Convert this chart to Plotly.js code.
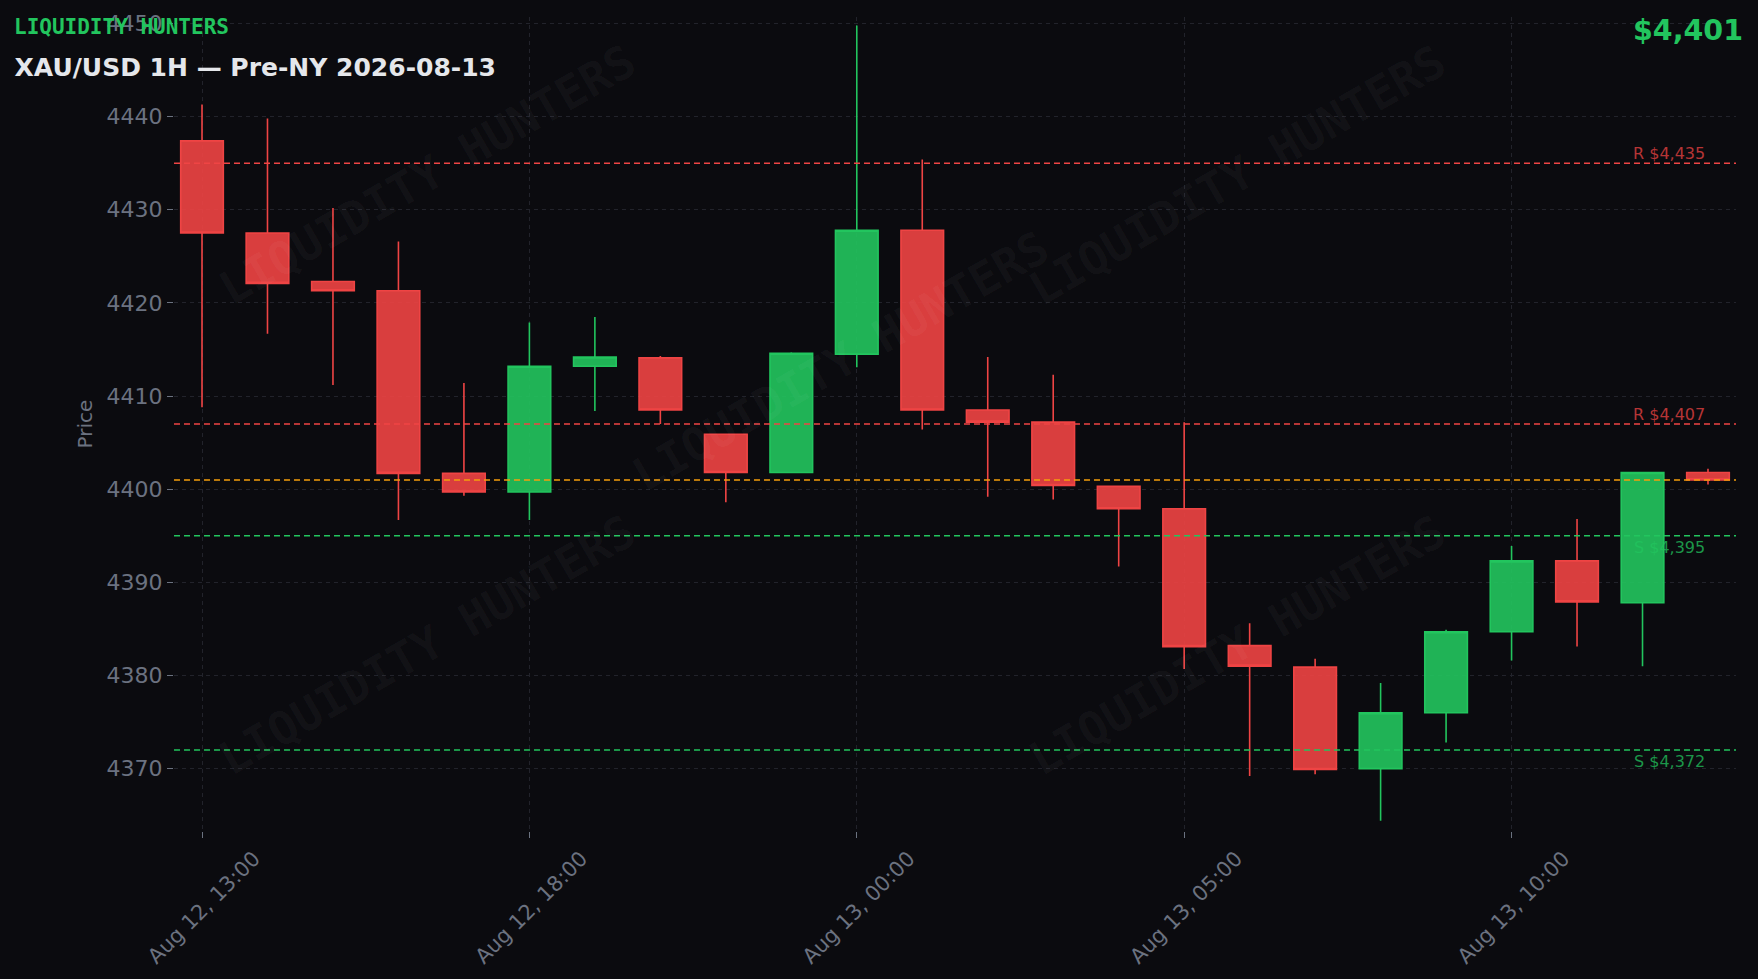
<!DOCTYPE html>
<html>
<head>
<meta charset="utf-8">
<script src="https://cdn.plot.ly/plotly-3.0.1.min.js"></script>
<style>
  html, body { margin: 0; padding: 0; background: #0b0b0f; }
  #chart { width: 1758px; height: 979px; }
</style>
</head>
<body>
<div id="chart"></div>
<script>
// ---- data ----
const times = [
  '2026-08-12 13:00', '2026-08-12 14:00', '2026-08-12 15:00', '2026-08-12 16:00',
  '2026-08-12 17:00', '2026-08-12 18:00', '2026-08-12 19:00', '2026-08-12 20:00',
  '2026-08-12 21:00', '2026-08-12 22:00',
  '2026-08-13 00:00', '2026-08-13 01:00', '2026-08-13 02:00', '2026-08-13 03:00',
  '2026-08-13 04:00', '2026-08-13 05:00', '2026-08-13 06:00', '2026-08-13 07:00',
  '2026-08-13 08:00', '2026-08-13 09:00', '2026-08-13 10:00', '2026-08-13 11:00',
  '2026-08-13 12:00', '2026-08-13 13:00'
];
const openP  = [4437.4, 4427.5, 4422.3, 4421.3, 4401.7, 4399.7, 4413.2, 4414.1, 4405.9, 4401.8,
                4414.5, 4427.8, 4408.5, 4407.2, 4400.3, 4397.9, 4383.2, 4380.9, 4370.0, 4376.0,
                4384.7, 4392.3, 4387.8, 4401.8];
const highP  = [4441.3, 4439.8, 4430.2, 4426.6, 4411.4, 4417.9, 4418.5, 4414.3, 4405.9, 4414.7,
                4449.8, 4435.4, 4414.2, 4412.3, 4400.4, 4407.2, 4385.6, 4381.8, 4379.2, 4384.9,
                4393.9, 4396.8, 4401.8, 4402.2];
const lowP   = [4408.8, 4416.7, 4411.2, 4396.7, 4399.3, 4396.7, 4408.4, 4407.0, 4398.6, 4401.8,
                4413.1, 4406.4, 4399.2, 4398.9, 4391.7, 4380.7, 4369.2, 4369.4, 4364.4, 4372.8,
                4381.6, 4383.1, 4381.0, 4400.5];
const closeP = [4427.5, 4422.1, 4421.3, 4401.7, 4399.7, 4413.2, 4414.2, 4408.5, 4401.8, 4414.6,
                4427.8, 4408.5, 4407.2, 4400.4, 4397.9, 4383.1, 4381.0, 4369.9, 4376.0, 4384.7,
                4392.3, 4387.9, 4401.8, 4401.0];
const tickIdx = [0, 5, 10, 15, 20];
const currentPrice = 4401;
const resistance = [4435, 4407];
const support = [4395, 4372];
const gapHour = '2026-08-12 23:00';
const brand = 'LIQUIDITY HUNTERS';
const titleText = 'XAU/USD 1H — Pre-NY 2026-08-13';

// ---- styling ----
const BG = '#0b0b0f';
const GREEN = '#22c55e';
const RED = '#ef4444';
const ORANGE = '#f59e0b';
const GRID = '#22232b';
const TICK = '#6b7280';
const FONT = 'DejaVu Sans, sans-serif';
const MONO = 'DejaVu Sans Mono, monospace';

const fmt = v => '$' + v.toLocaleString('en-US');

const trace = {
  type: 'candlestick',
  x: times, open: openP, high: highP, low: lowP, close: closeP,
  increasing: { line: { color: GREEN, width: 1.6 }, fillcolor: 'rgba(34,197,94,0.9)' },
  decreasing: { line: { color: RED, width: 1.6 }, fillcolor: 'rgba(239,68,68,0.9)' },
  hoverinfo: 'none',
  showlegend: false
};

const shapes = [];
const annotations = [];
function hline(y, color) {
  shapes.push({ type: 'line', xref: 'paper', x0: 0, x1: 1, yref: 'y', y0: y, y1: y,
    line: { color: color, width: 1.5, dash: '6px,4px' }, layer: 'above' });
}
resistance.forEach(v => {
  hline(v, RED);
  annotations.push({ xref: 'paper', x: 0.9815, xanchor: 'right', yref: 'y', y: v, yanchor: 'bottom', yshift: -2,
    text: 'R ' + fmt(v), showarrow: false, font: { family: FONT, size: 16, color: 'rgba(239,68,68,0.75)' } });
});
support.forEach(v => {
  hline(v, GREEN);
  annotations.push({ xref: 'paper', x: 0.9815, xanchor: 'right', yref: 'y', y: v, yanchor: 'top',
    text: 'S ' + fmt(v), showarrow: false, font: { family: FONT, size: 16, color: 'rgba(34,197,94,0.75)' } });
});
hline(currentPrice, ORANGE);

// watermarks
const wm = [[0.162, 0.806], [0.681, 0.806], [0.427, 0.578], [0.162, 0.228], [0.681, 0.228]];
wm.forEach(p => {
  annotations.push({ xref: 'paper', yref: 'paper', x: p[0], y: p[1], xanchor: 'center', yanchor: 'middle',
    text: brand, textangle: -30, showarrow: false,
    font: { family: MONO, size: 46, color: 'rgba(255,255,255,0.04)', weight: 'bold' } });
});

annotations.push({ xref: 'paper', yref: 'paper', x: -0.1035, y: 0.988, xanchor: 'left', yanchor: 'middle',
  text: '<b>' + brand + '</b>', showarrow: false, font: { family: MONO, size: 21, color: GREEN } });
annotations.push({ xref: 'paper', yref: 'paper', x: 1.0055, y: 0.984, xanchor: 'right', yanchor: 'middle',
  text: '<b>' + fmt(currentPrice) + '</b>', showarrow: false, font: { family: FONT, size: 28.5, color: GREEN } });

const layout = {
  width: 1758, height: 979,
  paper_bgcolor: BG, plot_bgcolor: BG,
  margin: { l: 174, r: 22, t: 17, b: 148 },
  boxgap: 0.3, boxgroupgap: 0.07,
  title: { text: '<b>' + titleText + '</b>', x: 0.0083, xanchor: 'left', xref: 'container',
    y: 1 - 67 / 979, yanchor: 'middle', yref: 'container',
    font: { family: FONT, size: 25, color: '#e5e7eb' } },
  xaxis: {
    type: 'date',
    range: ['2026-08-12 12:34:20', '2026-08-13 13:25:40'],
    rangebreaks: [{ values: [gapHour], dvalue: 3600000 }],
    rangeslider: { visible: false },
    tickmode: 'array',
    tickvals: tickIdx.map(i => times[i]),
    tickformat: '%b %d, %H:%M',
    tickangle: -45,
    ticklabelshift: 52,
    tickfont: { family: FONT, size: 21, color: TICK },
    ticks: 'outside', ticklen: 6, tickcolor: TICK, tickwidth: 1,
    showgrid: true, gridcolor: GRID, griddash: '4px,4px', gridwidth: 1,
    zeroline: false, showline: false
  },
  yaxis: {
    range: [4363.3, 4450.7],
    dtick: 10,
    tickfont: { family: FONT, size: 22, color: TICK },
    ticks: 'outside', ticklen: 6, tickcolor: TICK, tickwidth: 1,
    showgrid: true, gridcolor: GRID, griddash: '4px,4px', gridwidth: 1,
    zeroline: false, showline: false,
    title: { text: 'Price', font: { family: FONT, size: 20, color: TICK }, standoff: 8 }
  },
  shapes: shapes,
  annotations: annotations,
  showlegend: false,
  hovermode: false
};

Plotly.newPlot('chart', [trace], layout, { displayModeBar: false, staticPlot: true });
</script>
</body>
</html>
